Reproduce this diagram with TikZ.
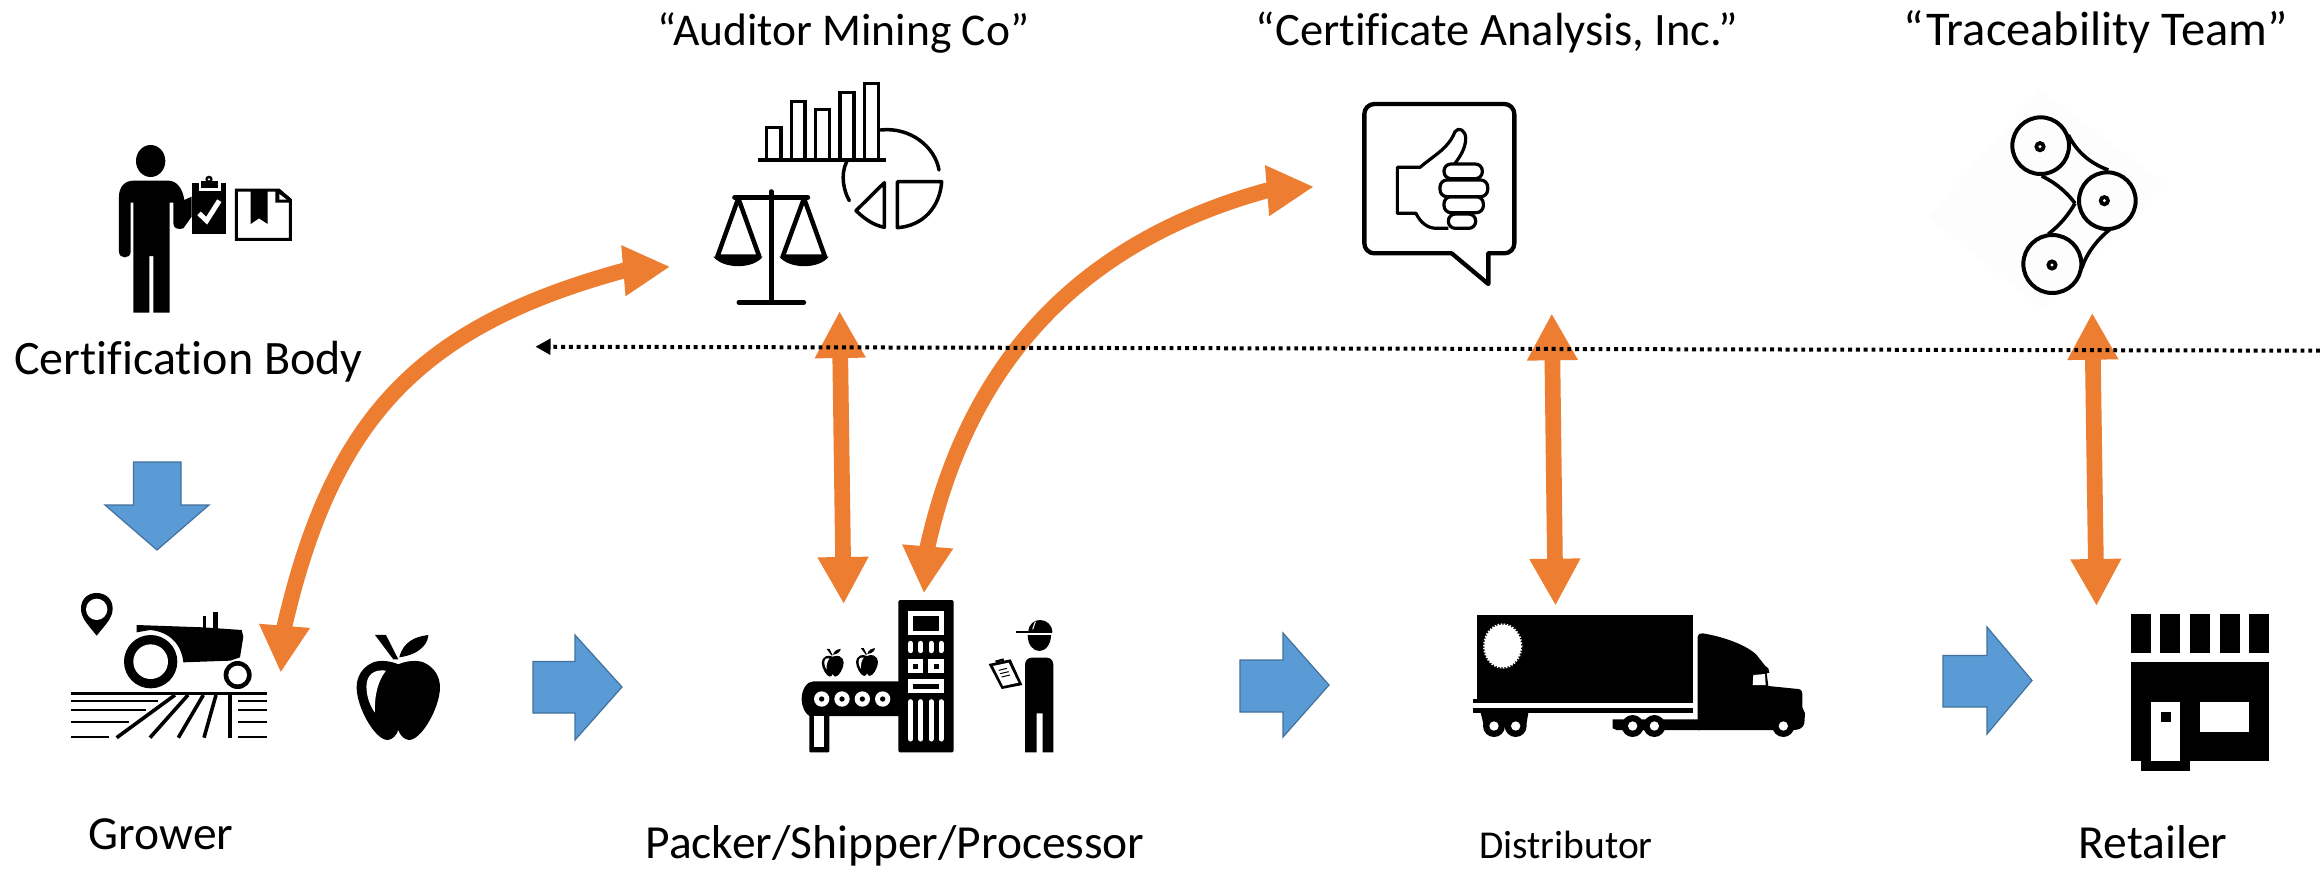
\documentclass[tikz,border=0pt]{standalone}
\usepackage{fontspec}
\setmainfont[Ligatures=NoCommon]{Carlito}
\usetikzlibrary{arrows.meta}
\definecolor{orangeA}{HTML}{ED7D31}
\definecolor{blueA}{HTML}{5B9BD5}
\definecolor{blueE}{HTML}{41719C}
\tikzset{
  zoomed/.style={x=0.33333pt,y=-0.33333pt},
  label/.style={inner sep=0pt,anchor=base,text=black,font=\fontsize{#1}{60}\selectfont},
  orangearrow/.style={draw=orangeA,line width=15.7pt,{Triangle[length=47pt,width=47.6pt]}-{Triangle[length=47pt,width=47.6pt]}},
  dotline/.style={draw=black,line width=4pt,dash pattern=on 3.9pt off 3.9pt,-{Triangle[length=15pt,width=15.5pt]}},
  blockarrow/.style={fill=blueA,draw=blueE,line width=1.2pt,line join=miter},
  pen/.style={draw=black,line join=round,fill=none}
}
\newcommand{\appleicon}[3]{%
\begin{scope}[shift={(#1,#2)},x=#3pt,y=-#3pt]
\fill[black] (0,-69) .. controls (25,-80) and (55,-82) .. (75,-75) .. controls (110,-60) and (125,-30) .. (125,0) .. controls (125,60) and (70,158) .. (32,158) .. controls (20,158) and (5,145) .. (0,128) .. controls (-5,145) and (-20,158) .. (-32,158) .. controls (-70,158) and (-125,60) .. (-125,0) .. controls (-125,-30) and (-110,-60) .. (-75,-75) .. controls (-55,-82) and (-25,-80) .. (0,-69) -- cycle;
\fill[black] (-70,-157) -- (-37,-157) -- (0,-84) -- (-15,-84) -- cycle;
\fill[black] (3,-90) .. controls (15,-137) and (50,-152) .. (90,-157) .. controls (90,-140) and (75,-100) .. (3,-90) -- cycle;
\fill[white] (-37,-50) .. controls (-70,-55) and (-100,-40) .. (-95,8) .. controls (-93,35) and (-82,60) .. (-70,76) .. controls (-72,20) and (-60,-20) .. (-37,-50) -- cycle;
\end{scope}}
\begin{document}
\begin{tikzpicture}[x=1pt,y=-1pt]
\useasboundingbox (0,0) rectangle (2320,868);
\fill[white] (0,0) rectangle (2320,868);

% ---- labels
\node[label=48] (cert) at (188.5,374) {Certification Body};
\node[label=45.5] (aud) at (843.6,45) {“Auditor Mining Co”};
\node[label=46.5] (ca) at (1497,45) {“Certificate Analysis, Inc.”};
\node[label=48.5] (tt) at (2095.7,45) {“Traceability Team”};
\node[label=47.5] (grower) at (161,849) {Grower};
\node[label=47.5] (packer) at (895,858) {Packer/Shipper/Processor};
\node[label=39.5] (dist) at (1566,858) {Distributor};
\node[label=47.5] (ret) at (2153,858) {Retailer};

% ---- certification body icon
\begin{scope}[shift={(0,100)},zoomed]
\fill (452,183) ellipse [x radius=44,y radius=48];
\fill (357,290) .. controls (357,260) and (375,242) .. (400,242) -- (505,242) .. controls (530,242) and (548,265) .. (553,300) -- (575,290) -- (575,350) -- (550,385) .. controls (535,390) and (520,385) .. (520,370) -- (520,308) -- (509,308) -- (509,638) -- (460,638) -- (460,468) -- (448,468) -- (448,638) -- (400,638) -- (400,308) -- (392,308) -- (392,455) .. controls (392,478) and (357,478) .. (357,455) -- cycle;
\fill (577,250) rectangle (679,402);
\fill[white] (596,250) rectangle (662,272);
\fill (604,243) rectangle (654,265);
\fill (627,238) circle (11);
\fill[white] (627,238) circle (4);
\draw[white,line width=5pt,line join=miter] (597,340) -- (620,362) -- (658,302);
\draw[pen,line width=3pt,line join=miter] (709,270) -- (836,270) -- (871,300) -- (871,418) -- (709,418) -- cycle;
\fill (826,268) -- (840,268) -- (875,298) -- (875,308) -- (826,308) -- cycle;
\fill[white] (838,282) -- (860,299) -- (838,299) -- cycle;
\fill (752,270) -- (803,270) -- (803,372) -- (777,355) -- (752,372) -- cycle;
\end{scope}

% ---- auditor icon
\begin{scope}[shift={(640,60)},zoomed]
\draw[pen,line width=3.5pt,line join=miter] (380,300) -- (380,202) -- (423,202) -- (423,300);
\draw[pen,line width=3.5pt,line join=miter] (454,300) -- (454,125) -- (495,125) -- (495,300);
\draw[pen,line width=3.5pt,line join=miter] (527,300) -- (527,148) -- (569,148) -- (569,300);
\draw[pen,line width=3.5pt,line join=miter] (600,300) -- (600,97) -- (642,97) -- (642,300);
\draw[pen,line width=3.5pt,line join=miter] (673,300) -- (673,70) -- (715,70) -- (715,300);
\draw[line width=4pt] (355,301) -- (738,301);
\draw[pen,line width=3.5pt,line cap=round] (722,210) .. controls (810,200) and (885,260) .. (897,330);
\draw[pen,line width=3.5pt,line cap=round] (620,305) .. controls (600,345) and (612,395) .. (628,422);
\draw[pen,line width=3.5pt] (772,365) -- (905,365) .. controls (900,440) and (850,498) .. (772,503) -- cycle;
\draw[pen,line width=3.5pt] (733,368) -- (648,452) .. controls (675,478) and (700,495) .. (733,502) -- cycle;
\draw[line width=5pt,line cap=round] (393,395) -- (393,727);
\draw[line width=5pt,line cap=round] (297,727) -- (491,727);
\draw[line width=5pt,line cap=round] (284,412) -- (503,412);
\draw[pen,line width=4.5pt] (295,415) -- (232,590) -- (358,590) -- cycle;
\draw[pen,line width=4.5pt] (492,415) -- (428,590) -- (555,590) -- cycle;
\fill (220,590) .. controls (250,628) and (340,628) .. (368,590) -- cycle;
\fill (418,590) .. controls (448,628) and (538,628) .. (566,590) -- cycle;
\end{scope}

% ---- thumbs-up icon
\begin{scope}[shift={(1320,80)},zoomed]
\draw[pen,line width=4.3pt] (395,520) [rounded corners=10pt] -- (133,520) -- (133,72) -- (583,72) -- (583,520) [sharp corners] -- (505,520) -- (505,612) -- cycle;
\draw[pen,line width=3.2pt] (385,445) -- (350,445) .. controls (320,445) and (300,425) .. (288,400) -- (232,400) -- (232,262) -- (300,262) .. controls (350,220) and (385,205) .. (405,155) .. controls (415,140) and (437,150) .. (437,175) .. controls (437,205) and (420,230) .. (405,250);
\draw[line width=3.2pt,fill=white,rounded corners=7pt] (372,252) rectangle (487,296);
\draw[line width=3.2pt,fill=white,rounded corners=7pt] (372,350) rectangle (490,398);
\draw[line width=3.2pt,fill=white,rounded corners=7pt] (385,402) rectangle (467,445);
\draw[line width=3.2pt,fill=white,rounded corners=7pt] (360,300) rectangle (503,350);
\end{scope}

% ---- belt icon
\begin{scope}[shift={(1900,90)},zoomed]
\fill[black!0.6] (420,0) -- (805,290) -- (430,660) -- (85,380) -- cycle;
\draw[pen,line width=4pt] (422,167) circle (85);
\draw[pen,line width=4pt] (622,332) circle (85);
\draw[pen,line width=4pt] (457,522) circle (87);
\draw[pen,line width=3.6pt] (505,135) .. controls (530,185) and (570,220) .. (625,240);
\draw[pen,line width=3.6pt] (425,258) .. controls (460,275) and (495,300) .. (525,340);
\draw[pen,line width=3.6pt] (525,340) .. controls (505,375) and (480,405) .. (445,432);
\draw[pen,line width=3.6pt] (630,418) .. controls (590,450) and (560,490) .. (545,535);
\foreach \cx/\cy in {420/170,613/332,456/525}{
  \fill (\cx,\cy) circle (17);
  \fill[white] (\cx,\cy) circle (5);
}
\end{scope}

% ---- tractor icon
\begin{scope}[shift={(50,570)},zoomed]
\fill (140,197) .. controls (115,165) and (93,145) .. (93,116) .. controls (93,85) and (115,69) .. (140,69) .. controls (165,69) and (188,85) .. (188,116) .. controls (188,145) and (165,165) .. (140,197) -- cycle;
\fill[white] (140,118) circle (32);
\fill (260,165) -- (460,172) -- (575,180) -- (580,200) -- (570,262) -- (540,272) -- (400,277) .. controls (395,225) and (360,185) .. (300,180) -- (260,187) -- cycle;
\fill (490,125) rectangle (505,178);
\fill (458,137) rectangle (468,175);
\fill (302,275) circle (80);
\fill[white] (302,275) circle (52);
\fill (563,315) circle (42);
\fill[white] (563,315) circle (28);
\draw[line width=2.7pt] (62,370) -- (652,370);
\foreach \yy/\xx/\ww in {393/325/2,420/288/2.6,456/238/2,500/178/2}{
  \draw[line width=\ww pt] (62,\yy) -- (\xx,\yy);
  \draw[line width=\ww pt] (563,\yy) -- (652,\yy);
}
\draw[line width=3.6pt] (375,375) -- (200,503);
\draw[line width=3.6pt] (414,375) -- (300,503);
\draw[line width=3.6pt] (460,375) -- (385,503);
\draw[line width=3.6pt] (498,375) -- (462,503);
\draw[line width=3.6pt] (540,375) -- (540,503);
\end{scope}
\appleicon{398.3}{687.3}{0.33333}

% ---- packer icon
\begin{scope}[shift={(770,590)},zoomed]
\fill[rounded corners=1.5pt] (385,30) rectangle (551,487);
\fill[white] (414,62) rectangle (522,135);
\fill (430,77) rectangle (507,122);
\foreach \xx in {422,452,483,513}{
  \draw[white,line width=5pt,line cap=round] (\xx,160) -- (\xx,182);
  \draw[white,line width=5pt,line cap=round] (\xx,335) -- (\xx,447);
}
\fill[white] (414,207) rectangle (460,250);
\fill[white] (475,207) rectangle (522,250);
\fill (430,221) rectangle (445,236);
\fill (491,221) rectangle (506,236);
\fill[white] (414,266) rectangle (522,310);
\fill (430,281) rectangle (507,296);
\fill (390,274) -- (130,274) .. controls (110,274) and (95,300) .. (95,326) .. controls (95,350) and (105,370) .. (118,378) -- (390,378) -- cycle;
\foreach \xx in {155,216,277,338}{
  \fill[white] (\xx,327) circle (23);
  \fill (\xx,327) circle (8);
}
\fill[rounded corners=1pt] (118,375) rectangle (178,487);
\fill[white] (133,378) rectangle (163,472);
\fill (775,127) .. controls (775,100) and (795,90) .. (810,90) .. controls (830,90) and (847,105) .. (847,127) -- cycle;
\draw[line width=2pt] (738,127) -- (845,127);
\draw[white,line width=1pt] (796,95) -- (788,118);
\fill (773,135) -- (843,135) .. controls (843,165) and (825,183) .. (808,183) .. controls (790,183) and (773,165) .. (773,135) -- cycle;
\fill (765,487) -- (765,225) .. controls (765,210) and (775,203) .. (785,203) -- (830,203) .. controls (842,203) and (850,212) .. (850,225) -- (850,487) -- (818,487) -- (818,370) -- (800,370) -- (800,487) -- cycle;
\fill (656,222) -- (722,208) -- (757,285) -- (695,297) -- cycle;
\fill (675,212) -- (700,205) -- (703,212) -- (678,218) -- cycle;
\fill[white] (669,228) -- (716,218) -- (745,278) -- (699,288) -- cycle;
\draw[line width=1pt] (686,241) -- (711,235);
\draw[line width=1pt] (690,251) -- (716,245);
\draw[line width=1pt] (695,261) -- (720,255);
\end{scope}
\appleicon{832.7}{662.7}{0.088}
\appleicon{867}{662}{0.088}

% ---- truck icon
\begin{scope}[shift={(1460,600)},zoomed]
\fill (50,46) rectangle (698,308);
\fill (40,296) rectangle (55,308);
\fill (40,325) rectangle (698,340);
\fill[white] (128,138) ellipse [x radius=55,y radius=64];
\draw[white,line width=2pt,dash pattern=on 1.5pt off 1.5pt] (128,138) ellipse [x radius=56,y radius=65];
\fill (62,338) -- (205,338) -- (198,380) -- (72,380) -- cycle;
\fill (713,358) -- (713,110) .. controls (713,102) and (720,100) .. (728,100) .. controls (790,110) and (860,135) .. (890,165) -- (915,197) -- (925,205) -- (928,218) -- (920,220) -- (925,258) -- (1015,267) .. controls (1025,268) and (1027,275) .. (1027,285) -- (1027,322) -- (1035,340) -- (1033,370) .. controls (1030,385) and (1015,390) .. (1000,390) -- (713,390) -- cycle;
\fill (458,358) -- (720,358) -- (720,390) -- (470,390) -- (458,385) -- cycle;
\fill[white] (880,225) -- (915,222) -- (917,255) -- (878,255) -- cycle;
\foreach \xx in {102,167,518,583,970}{
  \fill (\xx,378) circle (33);
  \fill[white] (\xx,378) circle (14);
}
\end{scope}

% ---- store icon
\begin{scope}[shift={(2100,600)},zoomed]
\foreach \xa/\xb in {92/153,181/241,270/330,359/419,448/508}{
  \fill (\xa,41) rectangle (\xb,158);
}
\fill (92,187) rectangle (508,484);
\fill (122,484) rectangle (270,513);
\fill[white] (152,307) rectangle (241,484);
\fill (182,337) rectangle (212,367);
\fill[white] (300,307) rectangle (448,396);
\end{scope}

% ---- blue flow arrows
\path[blockarrow] (133.5,462) -- (181,462) -- (181,505) -- (209,505) -- (157,550) -- (105,505) -- (133.5,505) -- cycle;
\path[blockarrow] (533,661.5) -- (575,661.5) -- (575,635) -- (622,687) -- (575,740) -- (575,713) -- (533,713) -- cycle;
\path[blockarrow] (1240,660) -- (1283,660) -- (1283,633) -- (1329,685) -- (1283,737) -- (1283,712) -- (1240,712) -- cycle;
\path[blockarrow] (1943,655.5) -- (1987,655.5) -- (1987,627) -- (2032,680.5) -- (1987,734) -- (1987,707) -- (1943,707) -- cycle;

% ---- connector ends
\coordinate (a1) at (280.7,672.7);
\coordinate (a1b) at (284.5,626);
\coordinate (b1b) at (623.3,270.7);
\coordinate (b1) at (670.2,266.7);
\coordinate (a2) at (923.9,593.3);
\coordinate (a2b) at (927.7,546);
\coordinate (b2b) at (1266,190.7);
\coordinate (b2) at (1313.9,186.7);
\coordinate (t1) at (839.6,311);
\coordinate (s1) at (843.7,604);
\coordinate (t2) at (1551.8,313.3);
\coordinate (s2) at (1555.5,605.7);
\coordinate (t3) at (2092.2,312.7);
\coordinate (s3) at (2096.5,606);
\coordinate (dr) at (2320,350.7);
\coordinate (dl) at (535.5,346.7);

% ---- orange two-headed arrows
\draw[orangearrow] (a1) -- (a1b) .. controls (332.5,419) and (418,327) .. (b1b) -- (b1);
\draw[orangearrow] (a2) -- (a2b) .. controls (970.5,356) and (1084.9,241) .. (b2b) -- (b2);
\draw[orangearrow] (t1) -- (s1);
\draw[orangearrow] (t2) -- (s2);
\draw[orangearrow] (t3) -- (s3);

% ---- dotted arrow
\draw[dotline] (dr) -- (dl);
\end{tikzpicture}
\end{document}
